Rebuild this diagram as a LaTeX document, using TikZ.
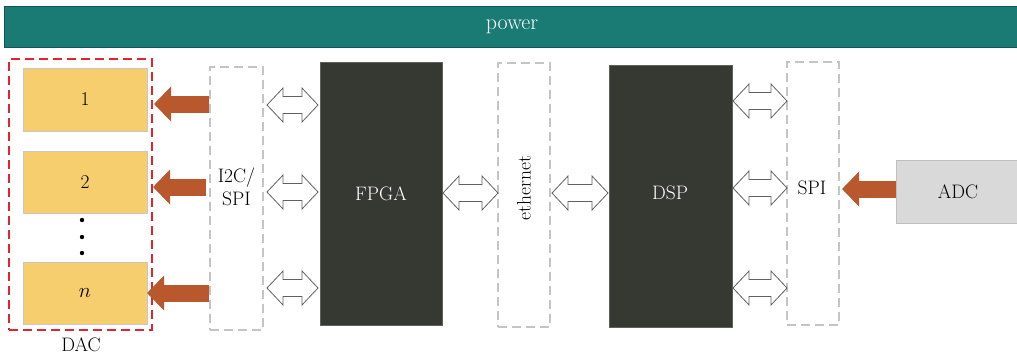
\documentclass[tikz,border=0pt]{standalone}
\usepackage{fontspec}
\usetikzlibrary{arrows.meta,calc}
\definecolor{powerteal}{HTML}{1A7B75}
\definecolor{dacyellow}{HTML}{F6CE6E}
\definecolor{chipdark}{HTML}{363832}
\definecolor{busorange}{HTML}{B9582C}
\definecolor{adcgray}{HTML}{D9D9D9}
\definecolor{dashgray}{HTML}{C4C4C4}
\definecolor{dacred}{HTML}{E0252E}
\tikzset{
  txt/.style={font=\fontsize{19.5}{23}\selectfont},
  blk/.style={txt, inner sep=0pt, outer sep=0pt},
  chip/.style={blk, fill=chipdark, draw=chipdark!80!white, line width=0.6pt, text=white},
  dacunit/.style={blk, fill=dacyellow, draw=black!22, line width=0.6pt},
  busbox/.style={blk, draw=dashgray, line width=1.3pt, dash pattern=on 9pt off 5pt},
  feed/.style={busorange, line width=17pt, -{Triangle[width=34pt,length=17pt]}, shorten >=0pt},
  linkarrow/.style={draw=black!62, line width=0.8pt, fill=white, line join=miter}
}
% hollow two-headed block arrow between two points on the same row
\newcommand{\linkarrow}[2]{%
  \path[linkarrow] let \p1=(#1), \p2=(#2) in
    (\x1,\y1) -- (\x1+16pt,\y1+17pt) -- (\x1+16pt,\y1+8.5pt) -- (\x2-16pt,\y1+8.5pt)
    -- (\x2-16pt,\y1+17pt) -- (\x2,\y1) -- (\x2-16pt,\y1-17pt) -- (\x2-16pt,\y1-8.5pt)
    -- (\x1+16pt,\y1-8.5pt) -- (\x1+16pt,\y1-17pt) -- cycle;}
\begin{document}
\begin{tikzpicture}[x=1pt,y=-1pt]
\useasboundingbox (0,0) rectangle (1017,357);

% power rail
\node[blk, fill=powerteal, draw=powerteal!70!black, line width=0.6pt, text=white,
      font=\fontsize{22}{26}\selectfont,
      minimum width=1016pt, minimum height=41pt] (power) at (512,26.5) {power};

% DAC group
\node[blk, draw=dacred, line width=1.8pt, dash pattern=on 9pt off 5pt,
      minimum width=143pt, minimum height=271pt] (dac) at (80.5,194.5) {};
\node[dacunit, minimum width=124pt, minimum height=63pt] (d1) at (85,99.5) {1};
\node[dacunit, minimum width=124pt, minimum height=62pt] (d2) at (85,182) {2};
\node[dacunit, minimum width=124pt, minimum height=62pt] (dn) at (85,293) {$n$};
\foreach \yy/\nm in {220/p1,237/p2,253/p3}
  {\fill (82,\yy) circle (2.2pt) coordinate (\nm);}
\node[txt] (daclabel) at (81,345) {DAC};

% buses and processors
\node[busbox, minimum width=53pt, minimum height=263pt] (i2c) at (236.5,198.5) {};
\node[txt, align=center, inner sep=0pt] (i2ctext) at (236.5,187) {I2C/\\SPI};
\node[chip, minimum width=122pt, minimum height=263pt] (fpga) at (381,193.5) {FPGA};
\node[busbox, minimum width=52pt, minimum height=264pt] (eth) at (524,195) {};
\node[txt, rotate=90, inner sep=0pt] (ethtext) at (524,188) {ethernet};
\node[chip, minimum width=123pt, minimum height=262pt] (dsp) at (670.5,196) {};
\node[txt, text=white, inner sep=0pt] (dsptext) at (670,193) {DSP};
\node[busbox, minimum width=52pt, minimum height=263pt] (spi) at (813,193.5) {};
\node[txt, inner sep=0pt] (spitext) at (812,188) {SPI};
\node[blk, fill=adcgray, draw=black!25, line width=0.6pt,
      minimum width=124pt, minimum height=63pt] (adc) at (958,191.5) {ADC};

% DAC feeds
\draw[feed] ([xshift=-1pt]i2c.west |- 0,104) -- ([xshift=2pt]dac.east |- 0,104);
\draw[feed] ([xshift=-4pt]i2c.west |- 0,187) -- ([xshift=1pt]dac.east |- 0,187);
\draw[feed] ([xshift=-1pt]i2c.west |- 0,293) -- ([xshift=-5pt]dac.east |- 0,293);
% ADC feed
\draw[feed] (adc.west |- 0,189) -- ([xshift=3pt]spi.east |- 0,189);

% bidirectional links
\foreach \yy in {105,192,288}
  {\linkarrow{$(i2c.east |- 0,\yy)+(4pt,0)$}{$(fpga.west |- 0,\yy)+(-2pt,0)$}}
\linkarrow{$(fpga.east |- 0,193)+(1pt,0)$}{$(eth.west |- 0,193)$}
\linkarrow{$(eth.east |- 0,193)+(2pt,0)$}{$(dsp.west |- 0,193)+(-1pt,0)$}
\foreach \yy in {101,188,288}
  {\linkarrow{$(dsp.east |- 0,\yy)+(1pt,0)$}{$(spi.west |- 0,\yy)$}}
\end{tikzpicture}
\end{document}
